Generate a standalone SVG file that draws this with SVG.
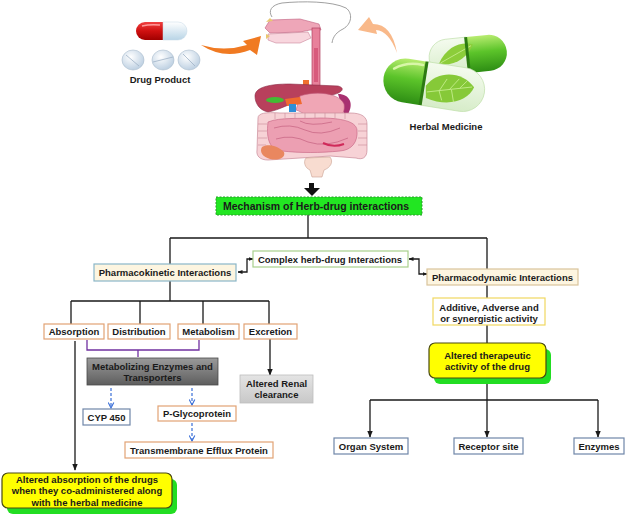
<svg xmlns="http://www.w3.org/2000/svg" width="630" height="520" viewBox="0 0 630 520">
<defs>
<style>
.t{font-family:"Liberation Sans",Arial,sans-serif;font-weight:bold;font-size:9.5px;fill:#1a1a1a;text-anchor:middle}
.ln{fill:none;stroke:#1a1a1a;stroke-width:1.3}
.bd{fill:none;stroke:#3a6fd8;stroke-width:1.2;stroke-dasharray:3,2}
.ob{fill:#fff;stroke:#e2a274;stroke-width:1.2}
.bb{fill:#fff;stroke:#6f86a8;stroke-width:1.2}
.yb{fill:#ffff00;stroke:#4a4a10;stroke-width:1.2}
.sh{fill:#22dd22}
</style>
<marker id="ah" viewBox="0 0 10 10" refX="9" refY="5" markerWidth="7" markerHeight="7" markerUnits="userSpaceOnUse" orient="auto"><path d="M0,1 L10,5 L0,9 Z" fill="#1a1a1a"/></marker>
<marker id="as" viewBox="0 0 10 10" refX="9" refY="5" markerWidth="5" markerHeight="5" markerUnits="userSpaceOnUse" orient="auto-start-reverse"><path d="M0,1 L10,5 L0,9 Z" fill="#1a1a1a"/></marker>
<marker id="ab" viewBox="0 0 10 10" refX="9" refY="5" markerWidth="7" markerHeight="7" markerUnits="userSpaceOnUse" orient="auto"><path d="M1,1 L9,5 L1,9" fill="none" stroke="#3a6fd8" stroke-width="1.6"/></marker>
<linearGradient id="gGray" x1="0" y1="0" x2="0" y2="1"><stop offset="0" stop-color="#9a9a9a"/><stop offset="1" stop-color="#5e5e5e"/></linearGradient>
<linearGradient id="gLGray" x1="0" y1="0" x2="0" y2="1"><stop offset="0" stop-color="#e4e4e4"/><stop offset="1" stop-color="#c8c8c8"/></linearGradient>
<linearGradient id="gRed" x1="0" y1="0" x2="0" y2="1"><stop offset="0" stop-color="#f04040"/><stop offset="0.5" stop-color="#d01010"/><stop offset="1" stop-color="#a00000"/></linearGradient>
<linearGradient id="gWhite" x1="0" y1="0" x2="0" y2="1"><stop offset="0" stop-color="#ffffff"/><stop offset="1" stop-color="#b8d4e6"/></linearGradient>
<radialGradient id="gTab" cx="0.4" cy="0.35" r="0.7"><stop offset="0" stop-color="#ffffff"/><stop offset="1" stop-color="#b9cde0"/></radialGradient>
<linearGradient id="gGreen" x1="0" y1="0" x2="0" y2="1"><stop offset="0" stop-color="#b8ec70"/><stop offset="0.45" stop-color="#5cc42a"/><stop offset="1" stop-color="#2e8e14"/></linearGradient>
<linearGradient id="gClear" x1="0" y1="0" x2="0" y2="1"><stop offset="0" stop-color="#f4fbee"/><stop offset="1" stop-color="#d6ecc8"/></linearGradient>
</defs>
<rect width="630" height="520" fill="#fff"/>

<g id="illustrations">
 <path d="M163,22 L145,22 A9,9 0 0 0 145,40 L163,40 Z" fill="url(#gRed)"/>
 <path d="M163,22 L178,22 A9,9 0 0 1 178,40 L163,40 Z" fill="url(#gWhite)" stroke="#c5d8e6" stroke-width="0.5"/>
 <path d="M142,26 Q150,24 160,25" stroke="#ff9a9a" stroke-width="1.5" fill="none"/>
 <ellipse cx="133" cy="60" rx="11" ry="10" fill="url(#gTab)" stroke="#aabccd" stroke-width="0.6"/>
 <line x1="126" y1="55" x2="139" y2="66" stroke="#9fb3c6" stroke-width="0.8"/>
 <ellipse cx="163" cy="60" rx="11" ry="10" fill="url(#gTab)" stroke="#aabccd" stroke-width="0.6"/>
 <line x1="153" y1="62" x2="173" y2="57" stroke="#9fb3c6" stroke-width="0.8"/>
 <ellipse cx="189" cy="60" rx="11" ry="10" fill="url(#gTab)" stroke="#aabccd" stroke-width="0.6"/>
 <line x1="183" y1="54" x2="195" y2="66" stroke="#9fb3c6" stroke-width="0.8"/>
 <path d="M201,45 Q224,60 250,50 L257,55 L261,36 L243,41 L247,45 Q224,52 201,45 Z" fill="#f07a22"/>
 <path d="M397,53 Q389,31 376,30 L377,34 L358,30 L369,17 L373,24 Q392,24 397,53 Z" fill="#f9b98a"/>
 <path d="M272,17 C268,11 271,5 282,3 C302,1 332,1 346,8 C353,13 352,24 343,29 C337,32 333,36 332,43" fill="none" stroke="#888" stroke-width="0.8"/>
 <path d="M265,28 L270,20 L300,19 L319,24 L321,30 L310,30 L300,32 L270,33 Z" fill="#eea6b8" stroke="#c06080" stroke-width="0.6"/>
 <path d="M268,34 L308,32 L311,38 L300,43 L276,43 L268,40 Z" fill="#f8d6de" stroke="#c07088" stroke-width="0.5"/>
 <path d="M266,22 L270,18 L273,21 Z M266,34 L270,36 L266,39 Z" fill="#e8c870"/>
 <rect x="312" y="28" width="8" height="58" fill="#e8819b" stroke="#b04060" stroke-width="0.7"/>
 <rect x="314" y="48" width="4" height="34" fill="#d85a7c"/>
 <rect x="303" y="80" width="6" height="6" fill="#f07030"/>
 <path d="M255,96 C255,87 270,84 290,84 L338,86 C346,88 342,93 332,95 L302,101 C287,104 280,110 268,112 C259,110 255,103 255,96 Z" fill="#b8405c" stroke="#8a2a44" stroke-width="0.6"/>
 <path d="M338,94 C350,94 354,104 348,114 C344,116 342,110 341,104 Z" fill="#a83070"/>
 <path d="M300,96 C318,90 340,94 344,104 C346,116 336,124 322,122 C310,121 304,112 296,110 Z" fill="#f0a6b5" stroke="#c46080" stroke-width="0.6"/>
 <ellipse cx="275" cy="100" rx="9" ry="3" fill="#44bb33"/>
 <path d="M285,99 L300,97 L302,104 L287,106 Z" fill="#f06a30"/>
 <path d="M289,104 L296,104 L296,112 L289,112 Z" fill="#2f8fd8"/>
 <path d="M290,113 L315,114 L312,118 L292,118 Z" fill="#f2d6a0"/>
 <path d="M258,118 C258,113 266,112 280,113 L350,113 C362,113 367,117 367,124 L367,150 C367,158 362,160 356,158 L330,156 L300,158 L268,160 C260,160 256,156 257,150 Z" fill="#f7d2d6" stroke="#c98a98" stroke-width="0.7"/>
 <path d="M268,122 C280,117 300,119 320,118 C340,118 356,121 357,130 C358,142 352,150 340,151 C320,153 300,153 282,151 C270,150 266,140 268,122 Z" fill="#ec9fb2" stroke="#c46080" stroke-width="0.6"/>
 <path d="M258,124 H267 M258,131 H267 M258,138 H267 M258,145 H266 M358,124 H367 M358,131 H367 M358,138 H367 M358,145 H367 M275,113 V119 M285,113 V118 M295,113 V118 M305,113 V118 M315,113 V118 M325,113 V118 M335,113 V118 M345,113 V119" stroke="#c98a98" stroke-width="0.6"/>
 <path d="M274,128 Q290,123 305,130 Q320,137 340,128 M276,139 Q292,134 308,142 Q326,148 348,138 M300,121 Q310,127 332,122" fill="none" stroke="#c46080" stroke-width="0.7"/>
 <path d="M323,143 Q333,148 344,144" fill="none" stroke="#d02a5a" stroke-width="2"/>
 <path d="M262,147 C268,143 278,146 284,152 C286,158 278,161 270,159 C263,157 259,152 262,147 Z" fill="#e9875f"/>
 <path d="M306,158 L330,157 C334,162 330,168 324,170 L322,177 L312,177 L310,170 C305,168 303,162 306,158 Z" fill="#f8dcd0" stroke="#c9a090" stroke-width="0.6"/>
 <g transform="translate(468,55) rotate(-6)">
  <path d="M0,-18 L21,-18 A18,18 0 0 1 21,18 L0,18 Z" fill="url(#gGreen)"/>
  <path d="M0,-18 L-21,-18 A18,18 0 0 0 -21,18 L0,18 Z" fill="url(#gClear)" stroke="#b9dca2" stroke-width="0.6"/>
  <path d="M-30,6 C-20,-12 -4,-14 6,-10 C0,2 -14,10 -30,6 Z" fill="#8ccd3a"/>
  <path d="M-28,5 L4,-9" stroke="#c8ee90" stroke-width="0.8"/>
  <rect x="-2" y="-18" width="3" height="36" fill="#2c7a12"/>
 </g>
 <g transform="translate(434,85) rotate(9)">
  <path d="M-10,-22 L-29,-22 A22,22 0 0 0 -29,22 L-10,22 Z" fill="url(#gGreen)"/>
  <path d="M-10,-22 L29,-22 A22,22 0 0 1 29,22 L-10,22 Z" fill="url(#gClear)" stroke="#b9dca2" stroke-width="0.6"/>
  <path d="M-8,2 C2,-16 26,-18 40,-4 C36,10 18,20 -6,14 Z" fill="#86c938"/>
  <path d="M-6,8 L38,-4 M6,5 L12,-8 M16,2 L24,-10 M26,-1 L32,-9 M6,5 L10,14 M18,2 L22,14" stroke="#c8ee90" stroke-width="0.8"/>
  <rect x="-12" y="-22" width="3" height="44" fill="#2c7a12"/>
  <path d="M-42,-10 Q-30,-19 -14,-18" stroke="#d8f6a8" stroke-width="2.5" fill="none" stroke-linecap="round"/>
 </g>
 <text class="t" x="160" y="83">Drug Product</text>
 <text class="t" x="446" y="130">Herbal Medicine</text>
</g>

<g id="connectors">
 <path d="M309,183 L314,183 L314,188 L320,188 L312,196 L304,188 L309,188 Z" fill="#111"/>
 <path class="ln" d="M308,215 V238 M170,238 H487 M170,238 V264 M487,238 V269"/>
 <polyline class="ln" points="238,272 247,272 247,259 253,259" marker-start="url(#as)" marker-end="url(#as)"/>
 <polyline class="ln" points="409,259 419,259 419,274 427,274" marker-start="url(#as)" marker-end="url(#as)"/>
 <path class="ln" d="M170,281 V301 M71,301 H269 M71,301 V324 M140,301 V324 M203,301 V324 M269,301 V324"/>
 <path d="M87,340 V350 H199 V340 M138,350 V357" fill="none" stroke="#7030a0" stroke-width="1.3"/>
 <line class="ln" x1="75" y1="341" x2="75" y2="470" marker-end="url(#ah)"/>
 <line class="ln" x1="270" y1="339" x2="270" y2="375" marker-end="url(#ah)"/>
 <line class="bd" x1="111" y1="388" x2="111" y2="408" marker-end="url(#ab)"/>
 <line class="bd" x1="192" y1="388" x2="192" y2="405" marker-end="url(#ab)"/>
 <line class="bd" x1="192" y1="423" x2="192" y2="441" marker-end="url(#ab)"/>
 <path class="ln" d="M487,285 V298 M487,325 V343 M487,378 V400 M370,400 H598"/>
 <line class="ln" x1="370" y1="400" x2="370" y2="437" marker-end="url(#ah)"/>
 <line class="ln" x1="487" y1="400" x2="487" y2="437" marker-end="url(#ah)"/>
 <line class="ln" x1="598" y1="400" x2="598" y2="437" marker-end="url(#ah)"/>
</g>

<g id="mechanism">
 <rect x="216" y="197" width="206" height="18" fill="#22e622" stroke="#2a9a2a" stroke-width="1" stroke-dasharray="2,1.5"/>
 <text class="t" x="316" y="210" style="font-size:10.5px">Mechanism of Herb-drug interactions</text>
</g>
<g id="pk">
 <rect x="94" y="264" width="142" height="17" fill="#fdf5e0" stroke="#8ab6c8" stroke-width="1.2"/>
 <text class="t" x="165" y="276">Pharmacokinetic Interactions</text>
</g>
<g id="complex">
 <rect x="253" y="251" width="155" height="16" fill="#fff" stroke="#a8d08d" stroke-width="1.2"/>
 <text class="t" x="330" y="262.5">Complex herb-drug Interactions</text>
</g>
<g id="pd">
 <rect x="427" y="269" width="151" height="16" fill="#fdf5e0" stroke="#d9c49b" stroke-width="1.2"/>
 <text class="t" x="502.5" y="280.5">Pharmacodynamic Interactions</text>
</g>
<g id="additive">
 <rect x="433" y="298" width="112" height="27" fill="#fff" stroke="#f0d860" stroke-width="1.2"/>
 <text class="t" x="489" y="310.5">Additive, Adverse and</text>
 <text class="t" x="489" y="321.5">or synergistic activity</text>
</g>
<g id="absorption">
 <rect class="ob" x="44" y="324" width="60" height="15"/>
 <text class="t" x="74" y="335">Absorption</text>
</g>
<g id="distribution">
 <rect class="ob" x="108" y="324" width="62" height="15"/>
 <text class="t" x="139" y="335">Distribution</text>
</g>
<g id="metabolism">
 <rect class="ob" x="178" y="324" width="61" height="15"/>
 <text class="t" x="208.5" y="335">Metabolism</text>
</g>
<g id="excretion">
 <rect class="ob" x="244" y="324" width="53" height="15"/>
 <text class="t" x="270.5" y="335">Excretion</text>
</g>
<g id="metabolizing">
 <rect x="87" y="358" width="131" height="27" fill="url(#gGray)" stroke="#4a4a4a" stroke-width="0.8"/>
 <text class="t" x="152.5" y="369.5">Metabolizing Enzymes and</text>
 <text class="t" x="152.5" y="381">Transporters</text>
</g>
<g id="renal">
 <rect x="240" y="375" width="73" height="28" fill="url(#gLGray)" stroke="#bdbdbd" stroke-width="0.8"/>
 <text class="t" x="276.5" y="386.5">Altered Renal</text>
 <text class="t" x="276.5" y="398">clearance</text>
</g>
<g id="cyp">
 <rect class="bb" x="83" y="409" width="47" height="16"/>
 <text class="t" x="106.5" y="420.5">CYP 450</text>
</g>
<g id="pgp">
 <rect class="ob" x="158" y="406" width="78" height="15"/>
 <text class="t" x="197" y="417">P-Glycoprotein</text>
</g>
<g id="transmembrane">
 <rect class="ob" x="125" y="442" width="148" height="16"/>
 <text class="t" x="199" y="453.5">Transmembrane Efflux Protein</text>
</g>
<g id="altered-absorption">
 <rect class="sh" x="7" y="479" width="170" height="35" rx="6"/>
 <rect class="yb" x="2" y="473" width="170" height="35" rx="6"/>
 <text class="t" x="87" y="482.5">Altered absorption of the drugs</text>
 <text class="t" x="87" y="494">when they co-administered along</text>
 <text class="t" x="87" y="505.5">with the herbal medicine</text>
</g>
<g id="altered-therapeutic">
 <rect class="sh" x="434" y="349" width="117" height="35" rx="6"/>
 <rect class="yb" x="429" y="343" width="117" height="35" rx="6"/>
 <text class="t" x="487.5" y="358.5">Altered therapeutic</text>
 <text class="t" x="487.5" y="370">activity of the drug</text>
</g>
<g id="organ">
 <rect class="bb" x="334" y="438" width="74" height="16"/>
 <text class="t" x="371" y="449.5">Organ System</text>
</g>
<g id="receptor">
 <rect class="bb" x="454" y="438" width="69" height="16"/>
 <text class="t" x="488.5" y="449.5">Receptor site</text>
</g>
<g id="enzymes">
 <rect class="bb" x="574" y="438" width="50" height="16"/>
 <text class="t" x="599" y="449.5">Enzymes</text>
</g>
</svg>
